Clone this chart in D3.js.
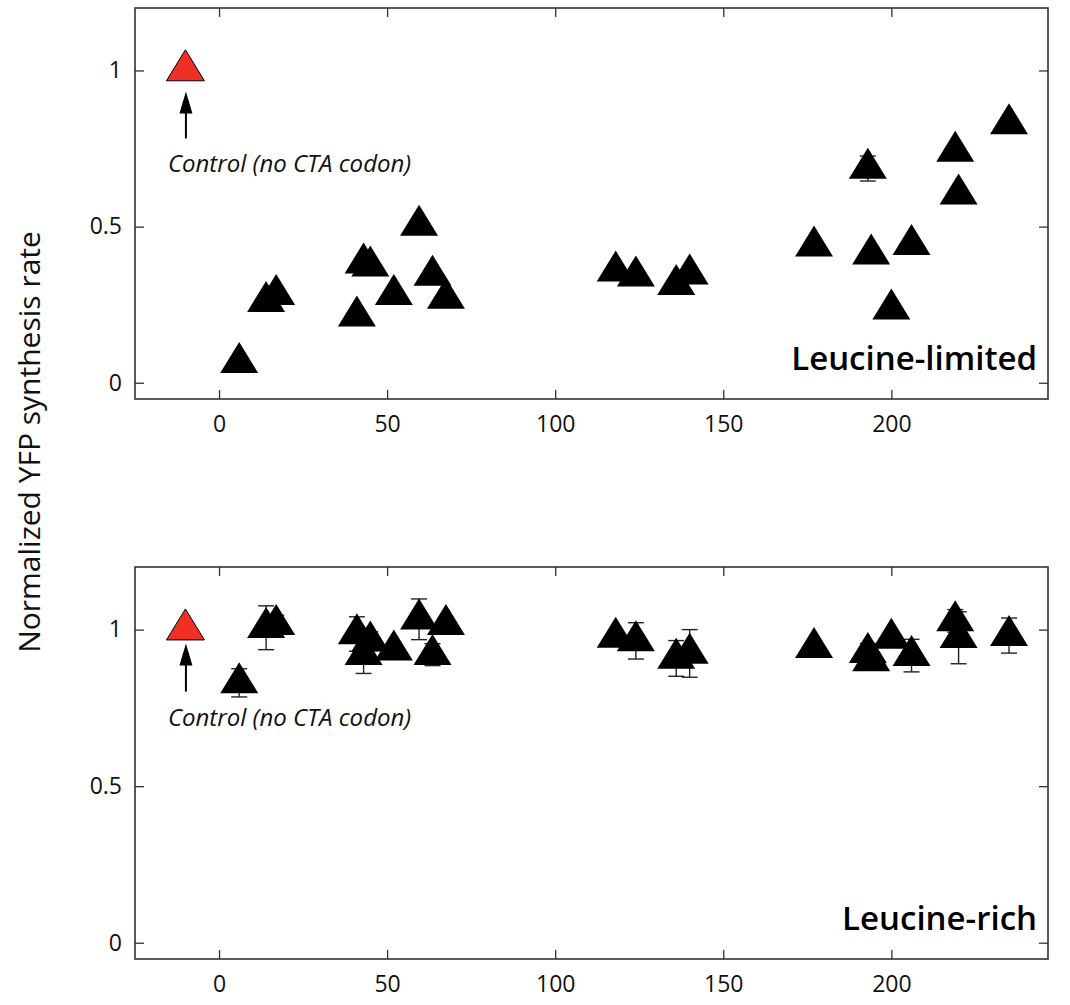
<!DOCTYPE html>
<html>
<head>
<meta charset="utf-8">
<script src="https://cdn.jsdelivr.net/npm/d3@7"></script>
<style>
  body { margin: 0; background: #fff; }
  svg text { font-family: "Open Sans", "Noto Sans", sans-serif; }
</style>
</head>
<body>
<svg id="chart"></svg>
<script>
// Codon positions (shared by both panels)
var positions = [6, 14, 17, 41, 43, 45, 52, 59.5, 63.5, 67.5, 118, 124, 136, 140, 177, 193, 194, 200, 206, 219, 220, 235];

// Leucine-limited panel
var limitedValues = [0.064, 0.26, 0.282, 0.213, 0.383, 0.373, 0.282, 0.504, 0.344, 0.27, 0.357, 0.341, 0.314, 0.348, 0.437, 0.686, 0.412, 0.236, 0.442, 0.741, 0.604, 0.829];
var limitedErrors = [0.02, 0.02, 0.02, 0.02, 0.02, 0.02, 0.02, 0.02, 0.02, 0.02, 0.02, 0.02, 0.02, 0.02, 0.02, 0.04, 0.02, 0.02, 0.02, 0.02, 0.02, 0.02];

// Leucine-rich panel
var richValues = [0.83, 1.006, 1.016, 0.986, 0.92, 0.963, 0.934, 1.033, 0.92, 1.016, 0.975, 0.964, 0.908, 0.924, 0.942, 0.926, 0.90, 0.972, 0.917, 1.028, 0.974, 0.981];
var richErrors = [0.045, 0.07, 0.03, 0.055, 0.06, 0.03, 0.02, 0.065, 0.035, 0.02, 0.02, 0.058, 0.057, 0.076, 0, 0.03, 0.02, 0.02, 0.052, 0.036, 0.083, 0.056];

// Control (no CTA codon)
var controlX = -10;
var controlY = 1;

var xTicks = [0, 50, 100, 150, 200];
var yTicks = [0, 0.5, 1];
var yTickLabels = ["0", "0.5", "1"];

const dims = {
    width: 1070,
    height: 1005,
    left: 135,
    right: 1048
};

const svg = d3.select("#chart")
    .attr("width", dims.width)
    .attr("height", dims.height);

// triangle wider than equilateral, centred on its centroid
const triangle = {
    draw(ctx, size) {
        const w = 38, h = 31;
        ctx.moveTo(0, -2 * h / 3);
        ctx.lineTo(w / 2, h / 3);
        ctx.lineTo(-w / 2, h / 3);
        ctx.closePath();
    }
};

function panel(top, bottom, values, errors, title, note) {
    const g = svg.append("g");

    const x = d3.scaleLinear().domain([-25, 246.6]).range([dims.left, dims.right]);
    const y = d3.scaleLinear().domain([-0.052, 1.2]).range([bottom, top]);

    // axes with inward ticks
    g.append("g")
        .attr("transform", `translate(0,${bottom})`)
        .call(d3.axisBottom(x).tickValues(xTicks).tickSize(-9).tickPadding(17).tickFormat(d3.format("d")));
    g.append("g")
        .attr("transform", `translate(0,${top})`)
        .call(d3.axisTop(x).tickValues(xTicks).tickSize(-9).tickFormat(""));
    g.append("g")
        .attr("transform", `translate(${dims.left},0)`)
        .call(d3.axisLeft(y).tickValues(yTicks).tickSize(-9).tickPadding(13).tickFormat((d, i) => yTickLabels[i]));
    g.append("g")
        .attr("transform", `translate(${dims.right},0)`)
        .call(d3.axisRight(y).tickValues(yTicks).tickSize(-9).tickFormat(""));

    g.selectAll(".domain").remove();
    g.selectAll(".tick line").attr("stroke", "#333").attr("stroke-width", 1.3);
    g.selectAll(".tick text").attr("font-size", 23).attr("fill", "#111");

    // frame
    g.append("rect")
        .attr("x", dims.left)
        .attr("y", top)
        .attr("width", dims.right - dims.left)
        .attr("height", bottom - top)
        .attr("fill", "none")
        .attr("stroke", "#333")
        .attr("stroke-width", 1.6);

    const data = positions.map((p, i) => ({x: p, y: values[i], e: errors[i]}));

    // error bars
    const eb = g.append("g").attr("stroke", "#222").attr("stroke-width", 1.4);
    data.filter(d => d.e > 0).forEach(d => {
        eb.append("line")
            .attr("x1", x(d.x)).attr("x2", x(d.x))
            .attr("y1", y(d.y - d.e)).attr("y2", y(d.y + d.e));
        [d.y - d.e, d.y + d.e].forEach(v => {
            eb.append("line")
                .attr("x1", x(d.x) - 8).attr("x2", x(d.x) + 8)
                .attr("y1", y(v)).attr("y2", y(v));
        });
    });

    // markers
    g.selectAll("path.pt")
        .data(data)
        .join("path")
        .attr("class", "pt")
        .attr("transform", d => `translate(${x(d.x)},${y(d.y)})`)
        .attr("d", d3.symbol().type(triangle))
        .attr("fill", "#000");

    // control marker
    g.append("path")
        .attr("transform", `translate(${x(controlX)},${y(controlY)})`)
        .attr("d", d3.symbol().type(triangle))
        .attr("fill", "#ee3124")
        .attr("stroke", "#000")
        .attr("stroke-width", 1);

    // arrow and note
    const ax = x(controlX) + 0.5, ay = y(controlY);
    g.append("line")
        .attr("x1", ax).attr("x2", ax)
        .attr("y1", ay + note.tail).attr("y2", ay + note.tip + 14)
        .attr("stroke", "#000").attr("stroke-width", 2);
    g.append("path")
        .attr("d", `M${ax},${ay + note.tip} L${ax - 6.5},${ay + note.tip + 22} L${ax + 6.5},${ay + note.tip + 22} Z`)
        .attr("fill", "#000");
    g.append("text")
        .attr("x", ax - 18)
        .attr("y", ay + note.text)
        .attr("font-size", 24)
        .attr("font-style", "italic")
        .attr("fill", "#111")
        .text("Control (no CTA codon)");

    // panel title
    g.append("text")
        .attr("x", dims.right - 11)
        .attr("y", bottom - 29)
        .attr("text-anchor", "end")
        .attr("font-size", 33)
        .attr("font-weight", 600)
        .attr("fill", "#000")
        .text(title);
}

panel(8, 399, limitedValues, limitedErrors, "Leucine-limited", {tip: 21, tail: 68, text: 102});
panel(567, 959, richValues, richErrors, "Leucine-rich", {tip: 14, tail: 62, text: 96});

// shared y label
svg.append("text")
    .attr("transform", "translate(40,442) rotate(-90)")
    .attr("text-anchor", "middle")
    .attr("font-size", 30)
    .attr("fill", "#111")
    .text("Normalized YFP synthesis rate");
</script>
</body>
</html>
